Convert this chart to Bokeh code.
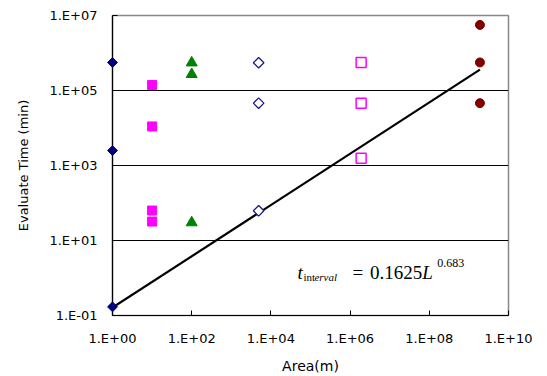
import math
from bokeh.plotting import figure
from bokeh.models import FixedTicker, Label
from bokeh.embed import file_html
from bokeh.resources import INLINE

# ---- data ----
diam_f_x = [1, 1, 1]
diam_f_y = [0.17, 2500, 5.6e5]
sq_f_x = [10, 10, 10, 10]
sq_f_y = [32, 63, 1.1e4, 1.4e5]
tri_x = [100, 100, 100]
tri_y = [30, 2.7e5, 5.5e5]
diam_o_x = [4.9e3, 4.9e3, 4.9e3]
diam_o_y = [62, 4.6e4, 5.5e5]
sq_o_x = [1.9e6, 1.9e6, 1.9e6]
sq_o_y = [1550, 4.6e4, 5.6e5]
circ_x = [1.9e9, 1.9e9, 1.9e9]
circ_y = [4.6e4, 5.6e5, 5.6e6]
fit_x = [1, 1.9e9]
fit_y = [0.1625, 3.6e5]

x_ticks = [1, 1e2, 1e4, 1e6, 1e8, 1e10]
x_tick_labels = ["1.E+00", "1.E+02", "1.E+04", "1.E+06", "1.E+08", "1.E+10"]
y_ticks = [0.1, 10, 1e3, 1e5, 1e7]
y_tick_labels = ["1.E-01", "1.E+01", "1.E+03", "1.E+05", "1.E+07"]

p = figure(width=547, height=376, x_axis_type="log", y_axis_type="log",
           x_range=(1, 1e10), y_range=(0.1, 1e7),
           output_backend="svg", toolbar_location=None,
           min_border_left=112, min_border_right=39,
           min_border_top=15, min_border_bottom=61)
p.background_fill_color = "white"
p.border_fill_color = "white"
p.outline_line_color = "#888888"
p.outline_line_width = 1.5

p.xaxis.ticker = FixedTicker(ticks=x_ticks, minor_ticks=[])
p.yaxis.ticker = FixedTicker(ticks=y_ticks, minor_ticks=[])
p.xaxis.major_label_overrides = {t: l for t, l in zip(x_ticks, x_tick_labels)}
p.yaxis.major_label_overrides = {t: l for t, l in zip(y_ticks, y_tick_labels)}

for ax in (p.xaxis[0], p.yaxis[0]):
    ax.axis_line_color = "black"
    ax.axis_line_width = 1.2
    ax.major_tick_in = 5
    ax.major_tick_out = 0
    ax.major_tick_line_color = "black"
    ax.minor_tick_line_color = None
    ax.major_label_text_font = "DejaVu Sans"
    ax.major_label_text_font_size = "13px"
    ax.major_label_text_color = "black"
    ax.axis_label_text_font = "DejaVu Sans"
    ax.axis_label_text_font_style = "normal"
    ax.axis_label_text_color = "black"

p.xaxis.axis_label = "Area(m)"
p.yaxis.axis_label = "Evaluate Time (min)"
p.xaxis.major_label_standoff = 15
p.xaxis.axis_label_standoff = 9
p.xaxis.axis_label_text_font_size = "14px"
p.yaxis.major_label_standoff = 15
p.yaxis.axis_label_standoff = 15
p.yaxis.axis_label_text_font_size = "13px"

p.xgrid.grid_line_color = None
p.ygrid.grid_line_color = "black"
p.ygrid.grid_line_width = 1.2

# fit line
p.line(fit_x, fit_y, line_color="black", line_width=2.2)

# markers
p.scatter(diam_f_x, diam_f_y, marker="square", angle=math.pi / 4, size=7,
          fill_color="#000080", line_color="#000080", level="overlay")
p.scatter(sq_f_x, sq_f_y, marker="square", size=9,
          fill_color="#FF00FF", line_color="#FF00FF")
p.scatter(tri_x, tri_y, marker="triangle", size=11,
          fill_color="#008000", line_color="#008000")
p.scatter(diam_o_x, diam_o_y, marker="square", angle=math.pi / 4, size=7.5,
          fill_color="white", line_color="#1A1A8C", line_width=1.3)
p.scatter(sq_o_x, sq_o_y, marker="square", size=10,
          fill_color="white", line_color="#FF00FF", line_width=1.5)
p.scatter(circ_x, circ_y, marker="circle", size=9,
          fill_color="#800000", line_color="#800000")

# equation text (annotation positions, log10 of data coords)
eq_parts = [
    ("t", 4.672, 0.147, "19px", "italic"),
    ("int", 4.823, 0.04, "11px", "normal"),
    ("erval", 5.10, 0.04, "11px", "italic"),
    ("=", 6.06, 0.147, "19px", "normal"),
    ("0.1625", 6.50, 0.147, "19px", "normal"),
    ("L", 7.82, 0.147, "19px", "italic"),
    ("0.683", 8.20, 0.413, "12px", "normal"),
]
for txt, lx, ly, fs, st in eq_parts:
    p.add_layout(Label(x=10 ** lx, y=10 ** ly, text=txt,
                       text_font="Liberation Serif", text_font_size=fs,
                       text_font_style=st, text_color="black",
                       text_baseline="alphabetic", text_align="left"))

open("out.html", "w").write(file_html(p, INLINE))
